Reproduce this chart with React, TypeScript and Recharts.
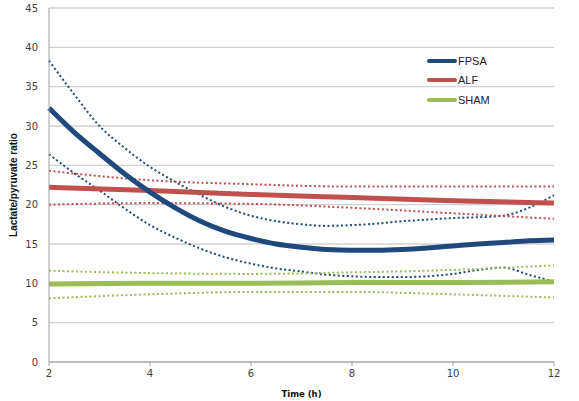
import { LineChart, Line, XAxis, YAxis, CartesianGrid } from 'recharts'

// FPSA read at half-hour steps, the flatter groups at 2h steps
const fpsaTimes = [2, 2.5, 3, 3.5, 4, 4.5, 5, 5.5, 6, 6.5, 7, 7.5, 8, 8.5, 9, 9.5, 10, 10.5, 11, 11.5, 12]
const fpsa = [32.3, 29.2, 26.5, 23.9, 21.6, 19.6, 17.9, 16.6, 15.7, 15.0, 14.6, 14.3, 14.2, 14.2, 14.3, 14.5, 14.75, 15.0, 15.2, 15.4, 15.5]
const fpsaUpper = [38.3, 34.0, 30.0, 27.2, 24.8, 22.9, 21.2, 19.7, 18.6, 17.9, 17.5, 17.3, 17.4, 17.6, 17.9, 18.1, 18.3, 18.4, 18.6, 19.6, 21.2]
const fpsaLower = [26.4, 24.0, 21.8, 19.5, 17.4, 15.8, 14.4, 13.3, 12.5, 11.9, 11.5, 11.1, 10.9, 10.8, 10.8, 10.9, 11.2, 11.7, 12.0, 11.1, 10.2]

const groupTimes = [2, 4, 6, 8, 10, 12]
const alf = [22.2, 21.8, 21.3, 20.9, 20.5, 20.2]
const alfUpper = [24.3, 23.1, 22.6, 22.3, 22.3, 22.3]
const alfLower = [20.0, 20.2, 20.1, 19.6, 18.9, 18.2]
const sham = [9.9, 10.0, 10.0, 10.1, 10.1, 10.2]
const shamUpper = [11.6, 11.3, 11.2, 11.4, 11.7, 12.3]
const shamLower = [8.1, 8.6, 8.9, 8.9, 8.6, 8.2]

const xTicks = [2, 4, 6, 8, 10, 12]
const yTicks = [0, 5, 10, 15, 20, 25, 30, 35, 40, 45]

const BLUE = '#1F497D'
const RED = '#C0504D'
const GREEN = '#9BBB59'

const legendItems = [
  { name: 'FPSA', color: BLUE },
  { name: 'ALF', color: RED },
  { name: 'SHAM', color: GREEN },
]

const toRows = (times: number[], values: number[]) => times.map((t, i) => ({ t, v: values[i] }))

const tickStyle = { fontFamily: '"DejaVu Sans", Verdana, sans-serif', fontSize: 10, fill: '#404040' }

function LegendBox() {
  return (
    <div
      style={{
        position: 'absolute',
        left: 427,
        top: 51,
        fontFamily: '"Liberation Sans", Arial, sans-serif',
        fontSize: 11,
        color: '#222',
      }}
    >
      {legendItems.map(item => (
        <div key={item.name} style={{ display: 'flex', alignItems: 'center', height: 19.5 }}>
          <span style={{ display: 'inline-block', width: 30, height: 4, borderRadius: 2, background: item.color }} />
          <span style={{ marginLeft: 1 }}>{item.name}</span>
        </div>
      ))}
    </div>
  )
}

export default function App() {
  const dotted = { strokeWidth: 2, strokeDasharray: '2 2.5', dot: false, isAnimationActive: false, legendType: 'none' as const }
  const thick = { strokeWidth: 5, dot: false, isAnimationActive: false }

  return (
    <div style={{ position: 'absolute', left: 0, top: 0, width: 579, height: 401, background: '#fff' }}>
      <LineChart width={579} height={401} margin={{ top: 8, right: 25, bottom: 0, left: 0 }}>
        <CartesianGrid vertical={false} stroke="#d0d0d0" strokeWidth={1.3} />
        <XAxis
          dataKey="t"
          type="number"
          domain={[2, 12]}
          ticks={xTicks}
          allowDuplicatedCategory={false}
          height={39}
          stroke="#a0a0a0"
          tickSize={4}
          tickMargin={4}
          tick={tickStyle}
          label={{
            value: 'Time (h)',
            position: 'insideBottom',
            offset: 4,
            style: { fontFamily: '"DejaVu Sans", Verdana, sans-serif', fontSize: 8.5, fontWeight: 'bold', fill: '#111' },
          }}
        />
        <YAxis
          type="number"
          domain={[0, 45]}
          ticks={yTicks}
          width={49}
          stroke="#a0a0a0"
          tickLine={false}
          tickSize={0}
          tickMargin={11}
          tick={tickStyle}
          label={({ viewBox }: any) => {
            const cy = viewBox.y + viewBox.height / 2
            return (
              <text
                x={17}
                y={cy}
                transform={`rotate(-90 17 ${cy})`}
                textAnchor="middle"
                style={{ fontFamily: '"Liberation Sans", Arial, sans-serif', fontSize: 10, fontWeight: 'bold', fill: '#111' }}
              >
                Lactate/pyruvate ratio
              </text>
            )
          }}
        />

        <Line data={toRows(fpsaTimes, fpsaUpper)} dataKey="v" type="monotone" stroke={BLUE} {...dotted} />
        <Line data={toRows(fpsaTimes, fpsaLower)} dataKey="v" type="monotone" stroke={BLUE} {...dotted} />
        <Line data={toRows(groupTimes, alfUpper)} dataKey="v" type="monotone" stroke={RED} {...dotted} />
        <Line data={toRows(groupTimes, alfLower)} dataKey="v" type="monotone" stroke={RED} {...dotted} />
        <Line data={toRows(groupTimes, shamUpper)} dataKey="v" type="monotone" stroke={GREEN} {...dotted} />
        <Line data={toRows(groupTimes, shamLower)} dataKey="v" type="monotone" stroke={GREEN} {...dotted} />

        <Line data={toRows(groupTimes, sham)} dataKey="v" name="SHAM" type="monotone" stroke={GREEN} {...thick} />
        <Line data={toRows(groupTimes, alf)} dataKey="v" name="ALF" type="monotone" stroke={RED} {...thick} />
        <Line data={toRows(fpsaTimes, fpsa)} dataKey="v" name="FPSA" type="monotone" stroke={BLUE} {...thick} />
      </LineChart>
      <LegendBox />
    </div>
  )
}
